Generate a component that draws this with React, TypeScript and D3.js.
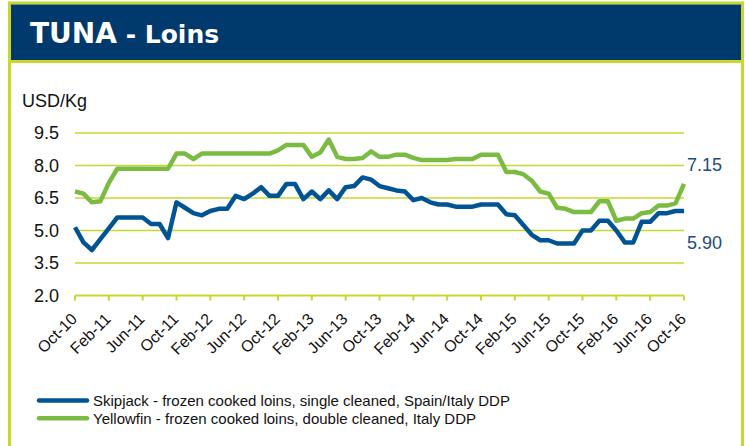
import React from "react";
import * as d3 from "d3";

const skipjack: number[] = [
  5.15, 4.45, 4.1, 4.6, 5.1, 5.6, 5.6, 5.6, 5.6, 5.3, 5.3, 4.65,
  6.3, 6.05, 5.8, 5.7, 5.9, 6.0, 6.0, 6.6, 6.45, 6.7, 7.0, 6.6,
  6.6, 7.15, 7.15, 6.45, 6.8, 6.45, 6.85, 6.45, 7.0, 7.05, 7.45, 7.35,
  7.05, 6.95, 6.85, 6.8, 6.4, 6.5, 6.3, 6.2, 6.2, 6.1, 6.1, 6.1,
  6.2, 6.2, 6.2, 5.75, 5.7, 5.25, 4.8, 4.55, 4.55, 4.4, 4.4, 4.4,
  5.0, 5.0, 5.45, 5.45, 5.0, 4.45, 4.45, 5.4, 5.4, 5.8, 5.8, 5.9,
  5.9,
];

const yellowfin: number[] = [
  6.8, 6.7, 6.3, 6.35, 7.2, 7.85, 7.85, 7.85, 7.85, 7.85, 7.85, 7.85,
  8.55, 8.55, 8.3, 8.55, 8.55, 8.55, 8.55, 8.55, 8.55, 8.55, 8.55, 8.55,
  8.7, 8.95, 8.95, 8.95, 8.4, 8.6, 9.2, 8.4, 8.3, 8.3, 8.35, 8.65,
  8.4, 8.4, 8.5, 8.5, 8.35, 8.25, 8.25, 8.25, 8.25, 8.3, 8.3, 8.3,
  8.5, 8.5, 8.5, 7.7, 7.7, 7.6, 7.3, 6.8, 6.7, 6.05, 6.0, 5.85,
  5.85, 5.85, 6.35, 6.35, 5.45, 5.55, 5.55, 5.8, 5.85, 6.15, 6.15, 6.25,
  7.15,
];

const tickLabels: string[] = [
  "Oct-10", "Feb-11", "Jun-11", "Oct-11", "Feb-12", "Jun-12", "Oct-12",
  "Feb-13", "Jun-13", "Oct-13", "Feb-14", "Jun-14", "Oct-14", "Feb-15",
  "Jun-15", "Oct-15", "Feb-16", "Jun-16", "Oct-16",
];
const tickStep = 4;
const yTicks: number[] = [2.0, 3.5, 5.0, 6.5, 8.0, 9.5];

const seriesNames: string[] = [
  "Skipjack - frozen cooked loins, single cleaned, Spain/Italy DDP",
  "Yellowfin - frozen cooked loins, double cleaned, Italy DDP",
];

const NAVY = "#00396b";
const LIME = "#c8d72e";
const BLUE = "#005493";
const GREEN = "#7abb41";
const LABEL = "#1f4b7a";

export default function App() {
  const W = 745;
  const H = 446;
  const n = skipjack.length;
  const x = d3.scaleLinear().domain([0, n - 1]).range([75, 684]);
  const y = d3.scaleLinear().domain([2, 9.5]).range([295.5, 133]);
  const line = d3
    .line<number>()
    .x((_, i) => x(i))
    .y((d) => y(d));
  const fmt = d3.format(".1f");
  const fmt2 = d3.format(".2f");
  const font = "'Liberation Sans', Arial, sans-serif";

  const lastS = skipjack[n - 1];
  const lastY = yellowfin[n - 1];

  return (
    <svg
      width={W}
      height={H}
      style={{ position: "absolute", left: 0, top: 0, background: "#fff" }}
    >
      {/* frame */}
      <rect x={9.5} y={3} width={733} height={500} fill="#fff" stroke={LIME} strokeWidth={3} />
      <rect x={11} y={4.5} width={730} height={56} fill={NAVY} />
      <line x1={9.5} x2={742.5} y1={61.5} y2={61.5} stroke={LIME} strokeWidth={3} />
      <text x={30} y={42.5} fill="#fff" fontFamily="'DejaVu Sans', sans-serif" fontWeight="bold" fontSize={28}>
        TUNA
        <tspan fontSize={25}> - Loins</tspan>
      </text>

      {/* y axis title */}
      <text x={22} y={106.5} fontFamily={font} fontSize={18} fill="#111">USD/Kg</text>

      {/* gridlines */}
      {yTicks.slice(1).map((t) => (
        <line key={t} x1={x(0)} x2={x(n - 1)} y1={y(t)} y2={y(t)} stroke={LIME} strokeWidth={1.3} />
      ))}
      {/* x axis */}
      <line x1={x(0)} x2={x(n - 1)} y1={y(2)} y2={y(2)} stroke={LIME} strokeWidth={2} />
      {tickLabels.map((lab, k) => {
        const xi = x(k * tickStep);
        return (
          <g key={lab}>
            <line x1={xi} x2={xi} y1={y(2)} y2={y(2) + 5} stroke={LIME} strokeWidth={2} />
            <text
              transform={`translate(${xi + 3},${320}) rotate(-45)`}
              textAnchor="end"
              fontFamily={font}
              fontSize={16}
              fill="#111"
            >
              {lab}
            </text>
          </g>
        );
      })}
      {yTicks.map((t) => (
        <text key={t} x={59} y={y(t)} dy="0.36em" textAnchor="end" fontFamily={font} fontSize={18} fill="#111">
          {fmt(t)}
        </text>
      ))}

      {/* series */}
      <path d={line(yellowfin) || ""} fill="none" stroke={GREEN} strokeWidth={4.5} strokeLinejoin="round" />
      <path d={line(skipjack) || ""} fill="none" stroke={BLUE} strokeWidth={4.5} strokeLinejoin="round" />

      {/* end labels */}
      <text x={x(n - 1) + 3} y={y(lastY) - 13} fontFamily={font} fontSize={18} fill={LABEL}>
        {fmt2(lastY)}
      </text>
      <text x={x(n - 1) + 3} y={y(lastS) + 38} fontFamily={font} fontSize={18} fill={LABEL}>
        {fmt2(lastS)}
      </text>

      {/* legend */}
      {seriesNames.map((name, k) => {
        const ly = 400.5 + k * 17.7;
        return (
          <g key={name}>
            <line x1={39} x2={87} y1={ly} y2={ly} stroke={k === 0 ? BLUE : GREEN} strokeWidth={4.5} strokeLinecap="round" />
            <text x={93} y={ly} dy="0.36em" fontFamily={font} fontSize={15} fill="#111">
              {name}
            </text>
          </g>
        );
      })}
    </svg>
  );
}
